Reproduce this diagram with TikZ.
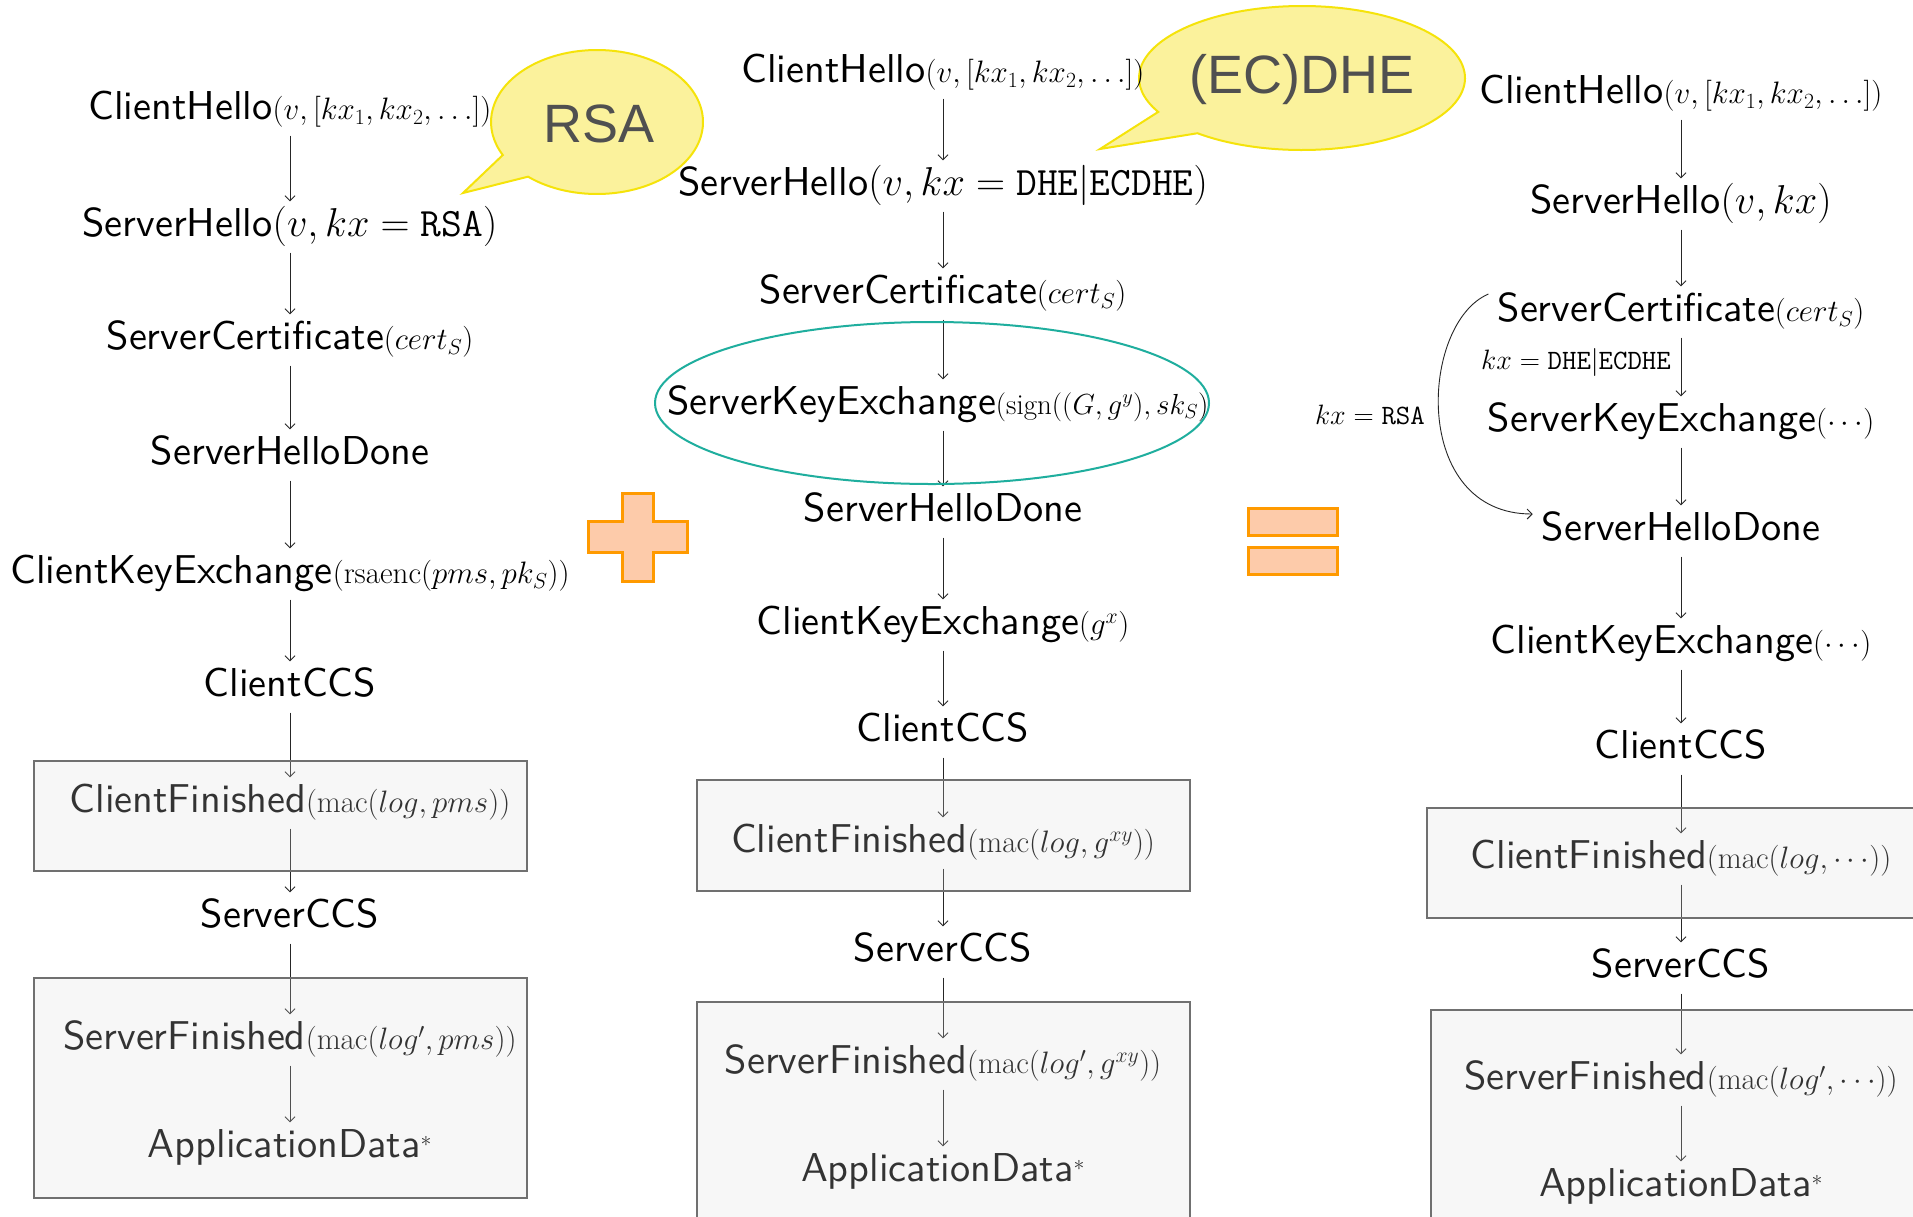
\RequirePackage{fix-cm}
\documentclass[tikz,border=0pt]{standalone}
\usepackage{fontspec}
\usetikzlibrary{arrows.meta,calc}
\newfontfamily\bubblefont{Liberation Sans}
\newfontfamily\msgfont{lmsans10-regular.otf}
\definecolor{bubblefill}{HTML}{FBF29C}
\definecolor{bubbleline}{HTML}{F5E30A}
\definecolor{bubbletext}{HTML}{505050}
\definecolor{opfill}{HTML}{FDCBAA}
\definecolor{opline}{HTML}{FF9A00}
\definecolor{keyring}{HTML}{1FAE9E}
\definecolor{framegray}{HTML}{707070}
\definecolor{shade}{HTML}{DDDDDD}
% message parameters are set smaller than the message name
\newcommand{\pargs}[1]{{\fontsize{31}{37}\selectfont$#1$}}
\newcommand{\spargs}[1]{{\fontsize{29}{35}\selectfont$#1$}}
\tikzset{
  msg/.style={font=\msgfont\fontsize{40.3}{48}\selectfont, inner xsep=0pt,
    inner ysep=7pt, text height=28pt, text depth=9pt, yshift=-4pt},
  flow/.style={-{Straight Barb[length=5pt,width=10pt]}, line width=0.9pt, black!85},
  cond/.style={font=\fontsize{28}{34}\selectfont, inner sep=0pt, anchor=east},
  bubble/.style={fill=bubblefill, draw=bubbleline, line width=2pt},
  bubbletxt/.style={font=\bubblefont\fontsize{54}{64}\selectfont, text=bubbletext, inner sep=0pt},
  opsign/.style={fill=opfill, draw=opline, line width=3pt},
  shadebox/.style={fill=shade, fill opacity=0.23, draw=framegray, draw opacity=1, line width=2pt},
}
\begin{document}
\begin{tikzpicture}[x=1pt,y=-1pt]
\useasboundingbox (0,0) rectangle (1913,1216);
\clip (0,0) rectangle (1913,1216);
\fill[white] (0,0) rectangle (1913,1216);

% speech bubbles
\coordinate (rsac) at (597,122);
\coordinate (rsatip) at (463,193);
\draw[bubble] ([shift={(229.4:106pt and 72pt)}]rsac)
  arc[start angle=229.4, end angle=567.3, x radius=106pt, y radius=72pt]
  -- (rsatip) -- cycle;
\node[bubbletxt] (rsa) at (599,124) {RSA};

\coordinate (dhec) at (1302,78);
\coordinate (dhetip) at (1100,149);
\draw[bubble] ([shift={(230.1:163pt and 72pt)}]dhec)
  arc[start angle=230.1, end angle=568.1, x radius=163pt, y radius=72pt]
  -- (dhetip) -- cycle;
\node[bubbletxt] (dhe) at (1302,80) {(EC)DHE};

% plus and equals signs
\draw[opsign] (622,493) -- (653,493) -- (653,521) -- (687,521) -- (687,552)
  -- (653,552) -- (653,581) -- (622,581) -- (622,552) -- (588,552)
  -- (588,521) -- (622,521) -- cycle;
\draw[opsign] (1248,508) rectangle (1337,535);
\draw[opsign] (1248,547) rectangle (1337,574);

% RSA handshake
\node[msg] (a1) at (290,106) {ClientHello\pargs{(v,[kx_1,kx_2,\ldots])}};
\node[msg] (a2) at (290,223) {ServerHello$(v,kx=\mathtt{RSA})$};
\node[msg] (a3) at (290,336) {ServerCertificate\pargs{(cert_S)}};
\node[msg] (a4) at (290,451) {ServerHelloDone};
\node[msg] (a5) at (290,570) {ClientKeyExchange\pargs{(\mathrm{rsaenc}(pms,pk_S))}};
\node[msg] (a6) at (290,683) {ClientCCS};
\node[msg] (a7) at (290,799) {ClientFinished\pargs{(\mathrm{mac}(log,pms))}};
\node[msg] (a8) at (290,914) {ServerCCS};
\node[msg] (a9) at (290,1036) {ServerFinished\pargs{(\mathrm{mac}(log',pms))}};
\node[msg] (a10) at (290,1144) {ApplicationData\pargs{^{*}}};
\foreach \u/\v in {a1/a2,a2/a3,a3/a4,a4/a5,a5/a6,a6/a7,a7/a8,a8/a9,a9/a10}
  \draw[flow] (\u) -- (\v);

% (EC)DHE handshake
\node[msg] (b1) at (943,69) {ClientHello\pargs{(v,[kx_1,kx_2,\ldots])}};
\node[msg] (b2) at (943,182) {ServerHello$(v,kx=\mathtt{DHE}|\mathtt{ECDHE})$};
\node[msg] (b3) at (943,290) {ServerCertificate\pargs{(cert_S)}};
\node[msg] (b4) at (938,401) {ServerKeyExchange\spargs{(\mathrm{sign}((G,g^y),sk_S)}};
\node[msg] (b5) at (943,508) {ServerHelloDone};
\node[msg] (b6) at (943,621) {ClientKeyExchange\pargs{(g^x)}};
\node[msg] (b7) at (943,728) {ClientCCS};
\node[msg] (b8) at (943,839) {ClientFinished\pargs{(\mathrm{mac}(log,g^{xy}))}};
\node[msg] (b9) at (943,948) {ServerCCS};
\node[msg] (b10) at (943,1060) {ServerFinished\pargs{(\mathrm{mac}(log',g^{xy}))}};
\node[msg] (b11) at (943,1168) {ApplicationData\pargs{^{*}}};
\foreach \u/\v in {b1/b2,b2/b3,b5/b6,b6/b7,b7/b8,b8/b9,b9/b10,b10/b11}
  \draw[flow] (\u) -- (\v);
\draw[flow] (b3.south -| b2.south) -- (b4.north -| b2.south);
\draw[flow] (b4.south -| b2.south) -- (b5.north -| b2.south);
\draw[keyring, line width=2pt] (932,403) ellipse [x radius=277pt, y radius=81pt];

% combined handshake
\node[msg] (c1) at (1681,90) {ClientHello\pargs{(v,[kx_1,kx_2,\ldots])}};
\node[msg] (c2) at (1681,200) {ServerHello$(v,kx)$};
\node[msg] (c3) at (1681,308) {ServerCertificate\pargs{(cert_S)}};
\node[msg] (c4) at (1681,418) {ServerKeyExchange\pargs{(\cdots)}};
\node[msg] (c5) at (1681,527) {ServerHelloDone};
\node[msg] (c6) at (1681,640) {ClientKeyExchange\pargs{(\cdots)}};
\node[msg] (c7) at (1681,745) {ClientCCS};
\node[msg] (c8) at (1681,855) {ClientFinished\pargs{(\mathrm{mac}(log,\cdots))}};
\node[msg] (c9) at (1681,964) {ServerCCS};
\node[msg] (c10) at (1681,1076) {ServerFinished\pargs{(\mathrm{mac}(log',\cdots))}};
\node[msg] (c11) at (1681,1183) {ApplicationData\pargs{^{*}}};
\foreach \u/\v in {c1/c2,c2/c3,c3/c4,c4/c5,c5/c6,c6/c7,c7/c8,c8/c9,c9/c10,c10/c11}
  \draw[flow] (\u) -- (\v);
\node[cond] (kdh) at (1671,362) {$kx=\mathtt{DHE}|\mathtt{ECDHE}$};
\node[cond] (krsa) at (1425,415) {$kx=\mathtt{RSA}$};
\draw[flow] ([xshift=-9pt,yshift=18pt]c3.west)
  .. controls (1420,323) and (1410,514) .. ([xshift=-9pt,yshift=17pt]c5.west);

% shaded finished blocks
\draw[shadebox] (34,761) rectangle (527,871);
\draw[shadebox] (34,978) rectangle (527,1198);
\draw[shadebox] (697,780) rectangle (1190,891);
\draw[shadebox] (697,1002) rectangle (1190,1240);
\draw[shadebox] (1427,808) rectangle (1940,918);
\draw[shadebox] (1431,1010) rectangle (1940,1240);
\end{tikzpicture}
\end{document}
